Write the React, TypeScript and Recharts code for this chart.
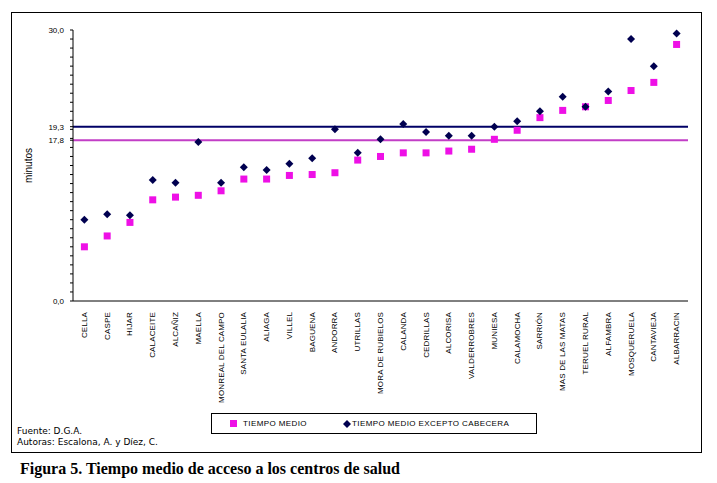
import { ComposedChart, Line, XAxis, YAxis, ReferenceLine } from "recharts";

// municipios (cabeceras de zona de salud)
const zonas = [
   "CELLA", "CASPE", "HIJAR", "CALACEITE", "ALCAÑIZ", "MAELLA", "MONREAL DEL CAMPO",
   "SANTA EULALIA", "ALIAGA", "VILLEL", "BAGUENA", "ANDORRA", "UTRILLAS", "MORA DE RUBIELOS",
   "CALANDA", "CEDRILLAS", "ALCORISA", "VALDERROBRES", "MUNIESA", "CALAMOCHA", "SARRIÓN",
   "MAS DE LAS MATAS", "TERUEL RURAL", "ALFAMBRA", "MOSQUERUELA", "CANTAVIEJA", "ALBARRACIN",
];

const tiempoMedio = [
   6.0, 7.2, 8.7, 11.2, 11.5, 11.7, 12.2, 13.5, 13.5, 13.9, 14.0, 14.2, 15.6, 16.0,
   16.4, 16.4, 16.6, 16.8, 17.9, 18.9, 20.3, 21.1, 21.5, 22.2, 23.3, 24.2, 28.4,
];

const tiempoExcepto = [
   9.0, 9.6, 9.5, 13.4, 13.1, 17.6, 13.1, 14.8, 14.5, 15.2, 15.8, 19.0, 16.4, 17.9,
   19.6, 18.7, 18.3, 18.3, 19.3, 19.9, 21.0, 22.6, 21.5, 23.2, 29.0, 26.0, 29.6,
];

const mediaTotal = 17.8;
const mediaExcepto = 19.3;

const yTicks = [
   0, 1, 2, 3, 4, 5, 6, 7, 8, 9, 10, 11, 12, 13, 14, 15, 16, 17, 18, 19, 20,
   21, 22, 23, 24, 25, 26, 27, 28, 29, 30, 17.8, 19.3,
];
const yLabels = [0, 17.8, 19.3, 30];

const data = zonas.map((name, i) => ({
   name,
   medio: tiempoMedio[i],
   excepto: tiempoExcepto[i],
}));

const PINK = "#ee10e6";
const NAVY = "#000050";
const SANS = "'Liberation Sans', Arial, sans-serif";

const YTick = (props: any) => {
   const { x, y, payload } = props;
   if (!yLabels.includes(payload.value)) return <g />;
   return (
      <text x={x} y={y} dy={3} textAnchor="end" fontSize={8} fontFamily={SANS} fill="#000">
         {payload.value.toFixed(1).replace(".", ",")}
      </text>
   );
};

const XTick = (props: any) => {
   const { x, y, payload } = props;
   return (
      <text
         x={x}
         y={y}
         transform={`rotate(-90, ${x}, ${y})`}
         textAnchor="end"
         dominantBaseline="central"
         fontSize={8}
         letterSpacing={0.15}
         fontFamily={SANS}
         fill="#000"
      >
         {payload.value}
      </text>
   );
};

const Square = (props: any) => {
   const { cx, cy, index } = props;
   if (cx == null || cy == null) return <g key={"s" + index} />;
   return <rect key={"s" + index} x={cx - 3.5} y={cy - 3.5} width={7} height={7} fill={PINK} />;
};

const Diamond = (props: any) => {
   const { cx, cy, index } = props;
   if (cx == null || cy == null) return <g key={"d" + index} />;
   return (
      <polygon
         key={"d" + index}
         points={`${cx},${cy - 4} ${cx + 4},${cy} ${cx},${cy + 4} ${cx - 4},${cy}`}
         fill={NAVY}
      />
   );
};

export default function App() {
   return (
      <div style={{ position: "absolute", left: 0, top: 0, width: 717, height: 483, background: "#fff" }}>
         <div
            style={{
               position: "absolute", left: 11, top: 12, width: 689, height: 439,
               border: "1px solid #000",
            }}
         />
         <div style={{ position: "absolute", left: 0, top: 0 }}>
            <ComposedChart
               width={717}
               height={412}
               data={data}
               margin={{ top: 30, right: 29, left: 0, bottom: 0 }}
            >
               <XAxis
                  dataKey="name"
                  type="category"
                  interval={0}
                  height={111}
                  padding={{ left: 11.4, right: 11.4 }}
                  tickLine={false}
                  tick={<XTick />}
                  tickMargin={5}
                  axisLine={{ stroke: "#000", strokeWidth: 1 }}
               />
               <XAxis
                  xAxisId="top"
                  dataKey="name"
                  orientation="top"
                  height={0}
                  tick={false}
                  tickLine={false}
                  axisLine={{ stroke: "#000", strokeWidth: 1 }}
               />
               <YAxis
                  domain={[0, 30]}
                  ticks={yTicks}
                  interval={0}
                  width={73}
                  tickSize={3}
                  tickMargin={6}
                  tickLine={{ stroke: "#000" }}
                  tick={<YTick />}
                  axisLine={{ stroke: "#000", strokeWidth: 1 }}
                  label={{
                     value: "minutos", angle: -90, position: "insideLeft", offset: 28,
                     style: { fontSize: 10, fontFamily: SANS, fill: "#000", textAnchor: "middle" },
                  }}
               />
               <YAxis
                  yAxisId="right"
                  orientation="right"
                  domain={[0, 30]}
                  width={0}
                  tick={false}
                  tickLine={false}
                  axisLine={{ stroke: "#000", strokeWidth: 1 }}
               />
               <ReferenceLine y={mediaExcepto} stroke="#000066" strokeWidth={2} />
               <ReferenceLine y={mediaTotal} stroke="#c23ec6" strokeWidth={2} />
               <Line
                  dataKey="medio"
                  stroke="none"
                  dot={<Square />}
                  activeDot={false}
                  isAnimationActive={false}
               />
               <Line
                  dataKey="excepto"
                  stroke="none"
                  dot={<Diamond />}
                  activeDot={false}
                  isAnimationActive={false}
               />
            </ComposedChart>
         </div>
         <div
            style={{
               position: "absolute", left: 211, top: 413, width: 324, height: 19,
               border: "1px solid #000", fontFamily: SANS, fontSize: 8, letterSpacing: 0.4,
            }}
         >
            <div style={{ position: "absolute", left: 18, top: 6, width: 7, height: 7, background: PINK }} />
            <div style={{ position: "absolute", left: 31, top: 5 }}>TIEMPO MEDIO</div>
            <svg style={{ position: "absolute", left: 131, top: 6 }} width={8} height={8}>
               <polygon points="4,0 8,4 4,8 0,4" fill={NAVY} />
            </svg>
            <div style={{ position: "absolute", left: 140, top: 5 }}>TIEMPO MEDIO EXCEPTO CABECERA</div>
         </div>
         <div
            style={{
               position: "absolute", left: 17, top: 426, fontFamily: "'DejaVu Sans', sans-serif",
               fontSize: 9, lineHeight: "11px", color: "#000",
            }}
         >
            <div>Fuente: D.G.A.</div>
            <div>Autoras: Escalona, A. y Díez, C.</div>
         </div>
         <div
            style={{
               position: "absolute", left: 20, top: 460, fontFamily: "'Liberation Serif', 'Times New Roman', serif",
               fontSize: 16, fontWeight: "bold", color: "#000", whiteSpace: "nowrap",
            }}
         >
            Figura 5. Tiempo medio de acceso a los centros de salud
         </div>
      </div>
   );
}
